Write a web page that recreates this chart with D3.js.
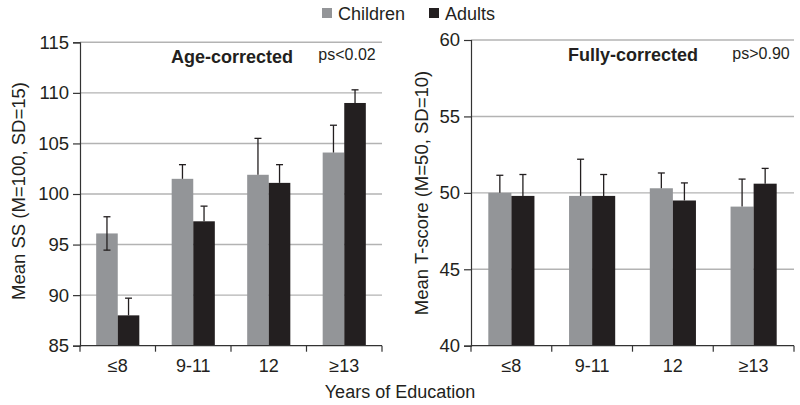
<!DOCTYPE html>
<html>
<head>
<meta charset="utf-8">
<script src="https://cdn.jsdelivr.net/npm/d3@7"></script>
<style>
  html, body { margin: 0; padding: 0; background: #fff; }
  svg { display: block; font-family: "Liberation Sans", Arial, Helvetica, sans-serif; }
</style>
</head>
<body>
<svg id="chart" width="800" height="405"></svg>
<script>
// ---- Data ----
const categories = ["\u22648", "9-11", "12", "\u226513"];
const series = ["Children", "Adults"];

// Left panel: Age-corrected (Mean SS)
const ageChildren = [96.1, 101.5, 101.9, 104.1];
const ageAdults = [88.0, 97.3, 101.1, 109.0];
const ageChildrenErrUp = [1.65, 1.4, 3.6, 2.7];
const ageChildrenErrDown = [1.65, 0, 0, 0];
const ageAdultsErrUp = [1.7, 1.5, 1.8, 1.3];
const ageTicks = [85, 90, 95, 100, 105, 110, 115];

// Right panel: Fully-corrected (Mean T-score)
const fullChildren = [50.0, 49.8, 50.3, 49.1];
const fullAdults = [49.8, 49.8, 49.5, 50.6];
const fullChildrenErrUp = [1.15, 2.4, 1.0, 1.8];
const fullAdultsErrUp = [1.4, 1.4, 1.15, 1.0];
const fullTicks = [40, 45, 50, 55, 60];

const colors = { Children: "#939598", Adults: "#231f20" };

const svg = d3.select("#chart");

function panel(opts) {
  const { x0, x1, yTop, yBottom, domain, ticks, children, adults, chUp, chDown, adUp,
          yTitle, yTitleX, yTitleY, title, titleX, titleY, pText, pX, pY } = opts;
  const g = svg.append("g");
  const x = d3.scaleBand().domain(categories).range([x0, x1]).padding(0);
  const xs = d3.scaleBand().domain(series).range([0, x.bandwidth()]).paddingInner(0).paddingOuter(0.75);
  const y = d3.scaleLinear().domain(domain).range([yBottom, yTop]);

  // gridlines
  g.append("g").selectAll("line").data(ticks.slice(1)).join("line")
    .attr("x1", x0).attr("x2", x1)
    .attr("y1", d => y(d)).attr("y2", d => y(d))
    .attr("stroke", "#b3b3b3").attr("stroke-width", 1.4);

  const rows = categories.map((c, i) => ({
    c, vals: [
      { s: "Children", v: children[i], up: chUp[i], down: chDown ? chDown[i] : 0 },
      { s: "Adults", v: adults[i], up: adUp[i], down: 0 }
    ]
  }));

  const grp = g.append("g").selectAll("g").data(rows).join("g")
    .attr("transform", d => `translate(${x(d.c)},0)`);

  grp.selectAll("rect").data(d => d.vals).join("rect")
    .attr("x", d => xs(d.s)).attr("width", xs.bandwidth())
    .attr("y", d => y(d.v)).attr("height", d => y(domain[0]) - y(d.v))
    .attr("fill", d => colors[d.s]);

  // error bars
  const eb = grp.selectAll("g.eb").data(d => d.vals).join("g").attr("class", "eb");
  const cx = d => xs(d.s) + xs.bandwidth() / 2;
  eb.append("line")
    .attr("x1", cx).attr("x2", cx)
    .attr("y1", d => y(d.v - d.down)).attr("y2", d => y(d.v + d.up))
    .attr("stroke", "#231f20").attr("stroke-width", 1.3);
  eb.append("line")
    .attr("x1", d => cx(d) - 3.5).attr("x2", d => cx(d) + 3.5)
    .attr("y1", d => y(d.v + d.up)).attr("y2", d => y(d.v + d.up))
    .attr("stroke", "#231f20").attr("stroke-width", 1.3);
  eb.filter(d => d.down > 0).append("line")
    .attr("x1", d => cx(d) - 3.5).attr("x2", d => cx(d) + 3.5)
    .attr("y1", d => y(d.v - d.down)).attr("y2", d => y(d.v - d.down))
    .attr("stroke", "#231f20").attr("stroke-width", 1.3);

  // y axis
  const yAxis = d3.axisLeft(y).tickValues(ticks).tickSize(7).tickPadding(4).tickFormat(d3.format("d"));
  const ya = g.append("g").attr("transform", `translate(${x0},0)`).call(yAxis);
  ya.select(".domain").attr("stroke", "#333").attr("stroke-width", 1.2);
  ya.selectAll(".tick line").attr("stroke", "#333").attr("stroke-width", 1.2);
  ya.selectAll(".tick text").attr("font-size", 18.5).attr("fill", "#231f20")
    .attr("font-family", "Liberation Sans, Arial, sans-serif");

  // x axis: ticks at band boundaries
  const xa = g.append("g").attr("transform", `translate(0,${yBottom})`);
  xa.append("line").attr("x1", x0).attr("x2", x1).attr("y1", 0).attr("y2", 0)
    .attr("stroke", "#333").attr("stroke-width", 1.2);
  const bounds = categories.map(c => x(c)).concat([x1]);
  xa.selectAll("line.bt").data(bounds).join("line").attr("class", "bt")
    .attr("x1", d => d).attr("x2", d => d).attr("y1", 0).attr("y2", 6)
    .attr("stroke", "#333").attr("stroke-width", 1.2);
  xa.selectAll("text").data(categories).join("text")
    .attr("x", d => x(d) + x.bandwidth() / 2).attr("y", 26)
    .attr("text-anchor", "middle").attr("font-size", 18).attr("fill", "#231f20")
    .text(d => d);

  // y title
  g.append("text")
    .attr("transform", `translate(${yTitleX},${yTitleY}) rotate(-90)`)
    .attr("text-anchor", "middle").attr("font-size", 18.5).attr("fill", "#231f20")
    .text(yTitle);

  // panel title
  g.append("text").attr("x", titleX).attr("y", titleY).attr("text-anchor", "middle")
    .attr("font-size", 18).attr("font-weight", "bold").attr("fill", "#231f20").text(title);
  g.append("text").attr("x", pX).attr("y", pY).attr("text-anchor", "middle")
    .attr("font-size", 16).attr("fill", "#231f20").text(pText);
}

panel({
  x0: 80, x1: 382, yTop: 42.3, yBottom: 345.7, domain: [85, 115], ticks: ageTicks,
  children: ageChildren, adults: ageAdults, chUp: ageChildrenErrUp, chDown: ageChildrenErrDown, adUp: ageAdultsErrUp,
  yTitle: "Mean SS (M=100, SD=15)", yTitleX: 25, yTitleY: 191,
  title: "Age-corrected", titleX: 232, titleY: 63, pText: "ps<0.02", pX: 347, pY: 60
});

panel({
  x0: 471, x1: 794, yTop: 40, yBottom: 345.7, domain: [40, 60], ticks: fullTicks,
  children: fullChildren, adults: fullAdults, chUp: fullChildrenErrUp, chDown: null, adUp: fullAdultsErrUp,
  yTitle: "Mean T-score (M=50, SD=10)", yTitleX: 428, yTitleY: 193,
  title: "Fully-corrected", titleX: 633, titleY: 61, pText: "ps>0.90", pX: 761, pY: 59
});

// legend
const legend = svg.append("g");
const legendX = [322, 429];
series.forEach((s, i) => {
  legend.append("rect").attr("x", legendX[i]).attr("y", 8).attr("width", 10).attr("height", 10)
    .attr("fill", colors[s]);
  legend.append("text").attr("x", legendX[i] + 16).attr("y", 19.5).attr("font-size", 18)
    .attr("fill", "#231f20").text(s);
});

// x title
svg.append("text").attr("x", 400).attr("y", 398).attr("text-anchor", "middle")
  .attr("font-size", 18).attr("fill", "#231f20").text("Years of Education");
</script>
</body>
</html>
